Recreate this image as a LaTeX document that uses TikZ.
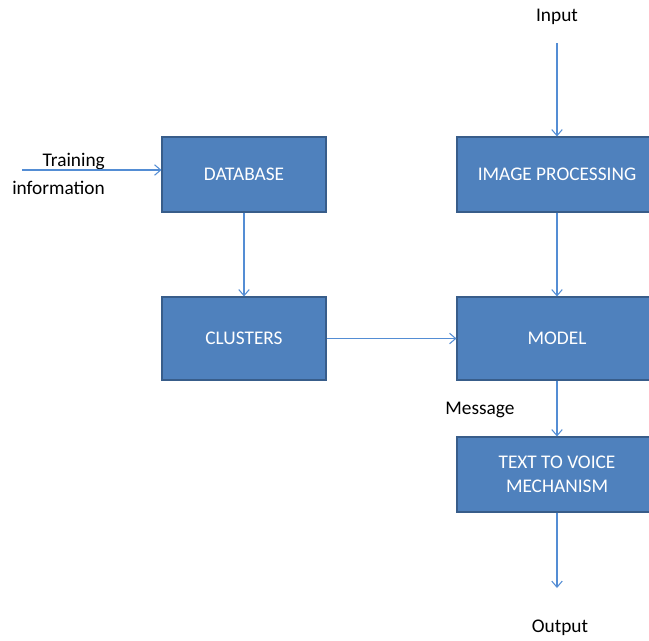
\documentclass[tikz,border=0pt]{standalone}
\usepackage{fontspec}
\setmainfont{Carlito}
\definecolor{boxblue}{RGB}{79,129,189}
\definecolor{boxline}{RGB}{56,93,138}
\definecolor{linkblue}{RGB}{84,141,212}
\usetikzlibrary{arrows.meta}

\begin{document}
\begin{tikzpicture}[x=0.02cm, y=-0.02cm, >={Straight Barb[length=3.5pt,width=6pt]},
    block/.style={draw=boxline, fill=boxblue, line width=0.6pt, text=white,
                  font=\fontsize{11}{13.5}\selectfont, align=center,
                  minimum width=4cm, minimum height=1.5cm},
    link/.style={->, draw=linkblue, line width=0.6pt},
    lbl/.style={font=\fontsize{11}{16}\selectfont}]
    \useasboundingbox (0,0) rectangle (649,640);
    % left column
    \node[block, minimum width=3.28cm] (database) at (244,174.5) {DATABASE};
    \node[block, minimum width=3.28cm, minimum height=1.66cm] (clusters) at (244,338.5) {CLUSTERS};
    % right column
    \node[block] (imgproc) at (557,174.5) {IMAGE PROCESSING};
    \node[block, minimum height=1.66cm] (model) at (557,338.5) {MODEL};
    \node[block] (ttv) at (557,474.5) {TEXT TO VOICE\\MECHANISM};
    % labels
    \node[lbl] (input) at (557,17) {Input};
    \node[lbl] (output) at (560,628) {Output};
    \node[lbl] (message) at (480,410) {Message};
    \node[lbl, align=right, anchor=east] (training) at (111,174) {Training\\information};
    \coordinate (trainstart) at (22,170);
    \coordinate (outend) at (557,588);
    % links
    \draw[link] (trainstart) -- (database.west |- trainstart);
    \draw[link] (database) -- (clusters);
    \draw[link] (clusters) -- (model);
    \draw[link, shorten <=7pt] (input) -- (imgproc);
    \draw[link] (imgproc) -- (model);
    \draw[link] (model) -- (ttv);
    \draw[link] (ttv) -- (outend);
\end{tikzpicture}
\end{document}
